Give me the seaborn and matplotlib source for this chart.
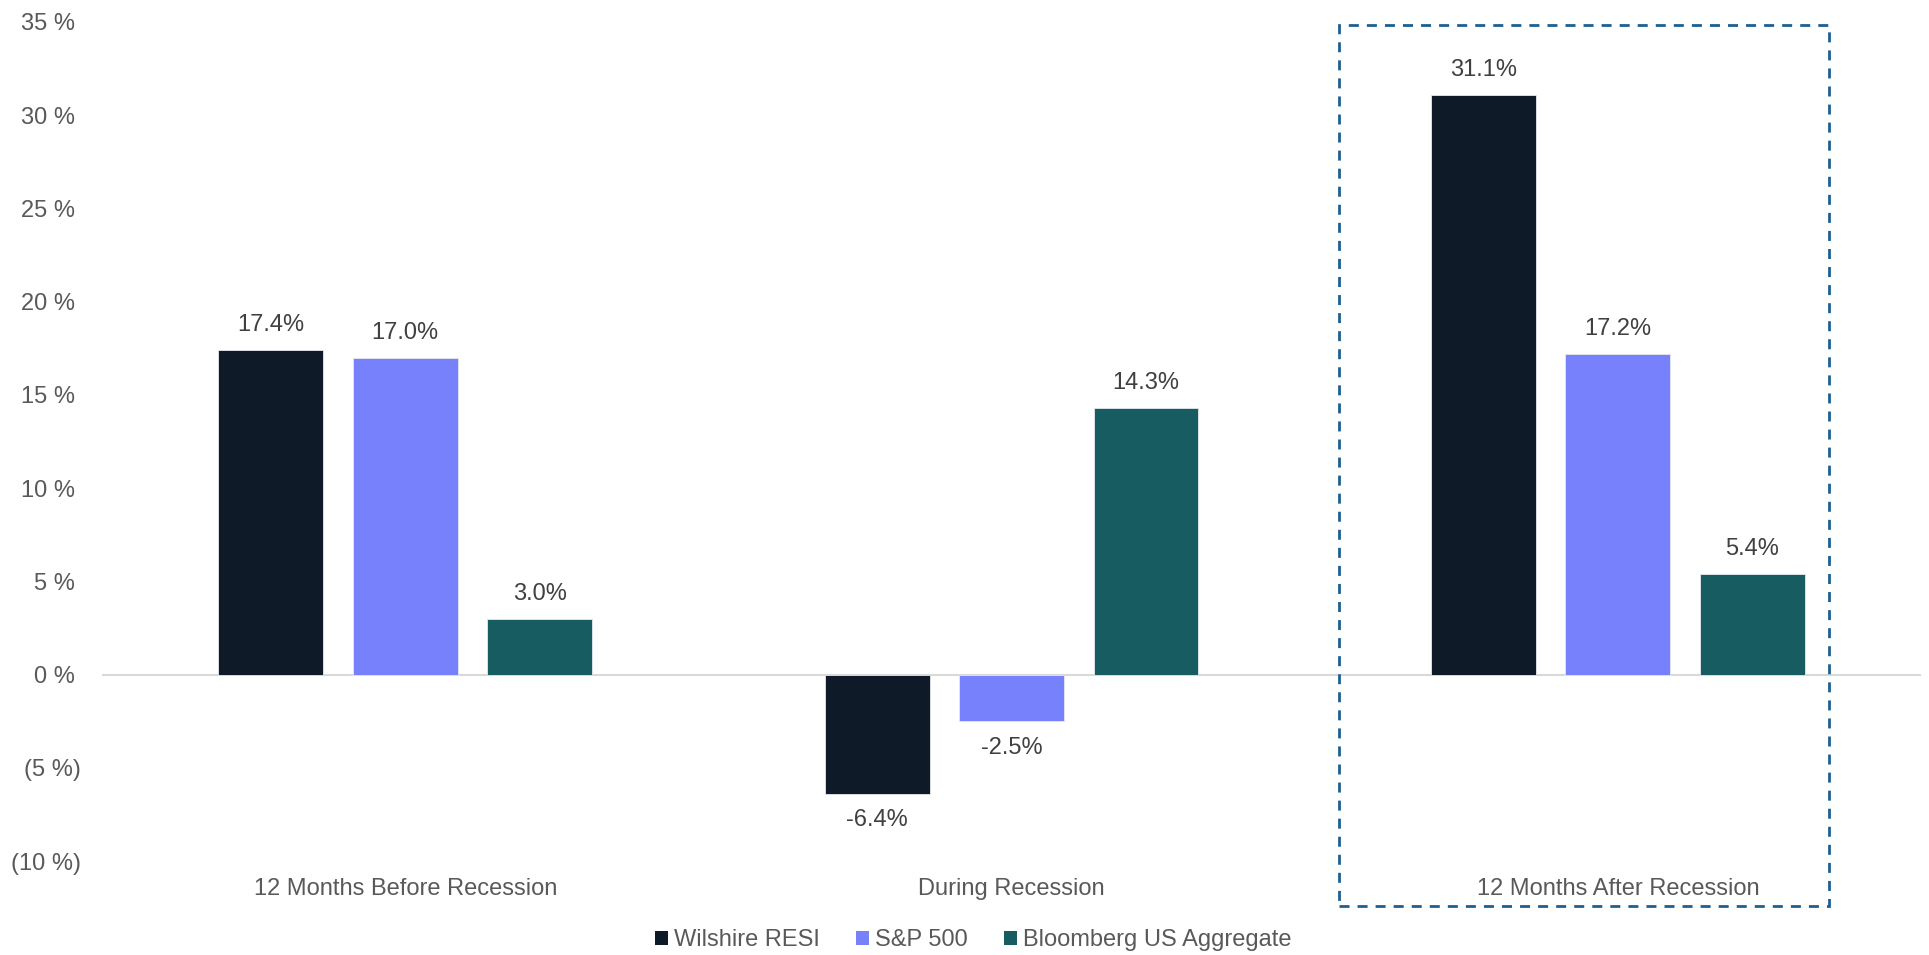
import matplotlib
matplotlib.use("Agg")
import matplotlib.pyplot as plt
from matplotlib.patches import Rectangle, Patch
import seaborn as sns
import pandas as pd

# Data
periods = ["12 Months Before Recession", "During Recession", "12 Months After Recession"]
series = ["Wilshire RESI", "S&P 500", "Bloomberg US Aggregate"]
wilshire_resi = [17.4, -6.4, 31.1]
sp500 = [17.0, -2.5, 17.2]
bloomberg_agg = [3.0, 14.3, 5.4]
y_ticks = [-10, -5, 0, 5, 10, 15, 20, 25, 30, 35]

colors = ["#0E1A28", "#7881FC", "#165C60"]

df = pd.DataFrame({
    "period": periods * 3,
    "series": [series[0]] * 3 + [series[1]] * 3 + [series[2]] * 3,
    "value": wilshire_resi + sp500 + bloomberg_agg,
})

sns.set_style("white")
plt.rcParams["font.family"] = ["Liberation Sans", "DejaVu Sans"]

fig = plt.figure(figsize=(19.29, 9.55), dpi=100)
ax = fig.add_axes([0.0529, 0.0984, 0.9430, 0.8786])

sns.barplot(
    data=df, x="period", y="value", hue="series",
    order=periods, hue_order=series, palette=colors, saturation=1,
    width=0.665, gap=0.22, dodge=True, errorbar=None,
    edgecolor="#E6E9EE", linewidth=0.6, ax=ax, legend=False,
)

ax.set_xlim(-0.5, 2.5)
ax.set_ylim(-10, 35)
ax.set_yticks(y_ticks)
ax.set_yticklabels([f"{t} % " if t >= 0 else f"({abs(t)} %)" for t in y_ticks])
ax.tick_params(axis="y", length=0, pad=15, labelsize=17, labelcolor="#595959")
ax.tick_params(axis="x", length=0, pad=12, labelsize=17, labelcolor="#595959")
ax.set_xlabel("")
ax.set_ylabel("")
for s in ax.spines.values():
    s.set_visible(False)
ax.grid(False)
ax.axhline(0, color="#D9D9D9", linewidth=1.5, zorder=0)

# Value labels above positive bars, below negative ones
for container in ax.containers:
    for bar in container:
        v = bar.get_height()
        xc = bar.get_x() + bar.get_width() / 2
        off = 18 if v >= 0 else -19
        ax.annotate(f"{v:.1f}%", xy=(xc, v), xytext=(0, off),
                    textcoords="offset points", ha="center", va="center",
                    fontsize=17, color="#404040")

# Highlight box around the post-recession group
fig.add_artist(Rectangle((0.6941, 0.0513), 0.2540, 0.9225,
                         transform=fig.transFigure, fill=False,
                         edgecolor="#1F5F8F", linewidth=2.0,
                         linestyle=(0, (3.6, 2.9)), clip_on=False))

handles = [Patch(facecolor=c, edgecolor="none") for c in colors]
fig.legend(handles, series, loc="center", bbox_to_anchor=(0.5045, 0.0157),
           ncol=3, frameon=False, fontsize=17, labelcolor="#595959",
           handlelength=0.55, handleheight=0.55, handletextpad=0.25,
           columnspacing=1.55, borderpad=0)

fig.savefig("out.png", dpi=100)
